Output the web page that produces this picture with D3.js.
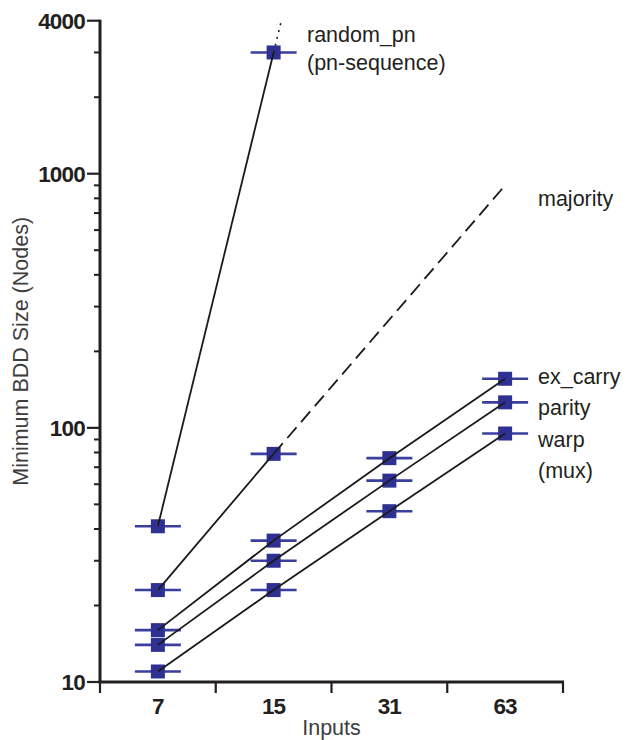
<!DOCTYPE html>
<html>
<head>
<meta charset="utf-8">
<script src="https://cdn.jsdelivr.net/npm/d3@7"></script>
<style>
  html, body { margin: 0; padding: 0; background: #fff; }
  svg { display: block; font-family: "Liberation Sans", Arial, Helvetica, sans-serif; }
</style>
</head>
<body>
<svg id="chart" width="632" height="740"></svg>
<script>
// ---- data ----
const inputs = [7, 15, 31, 63];
const randomPn = [41, 3000];          // inputs 7, 15
const majority = [23, 79];            // inputs 7, 15
const exCarry  = [16, 36, 76, 156];
const parity   = [14, 30, 62, 126];
const warp     = [11, 23, 47, 95];
// projected (extrapolated) trends drawn as dotted / dashed lines
const randomPnTrendInputs = [15, 31];
const randomPnTrend = [3000, 220000];
const majorityTrendInputs = [15, 63];
const majorityTrend = [79, 900];
const yMajorTicks = [10, 100, 1000, 4000];
const yMinorTicks = [20, 30, 40, 50, 60, 70, 80, 90, 200, 300, 400, 500, 600, 700, 800, 900, 2000, 3000];

// ---- layout ----
const svg = d3.select("#chart");
const pLeft = 100, pRight = 563, pTop = 20.7, pBottom = 682;

const x = d3.scaleBand().domain(inputs).range([pLeft, pRight]).padding(0);
const cx = v => x(v) + x.bandwidth() / 2;
const y = d3.scaleLog().domain([10, 4000]).range([pBottom, pTop]);

const ink = "#231f20";
const blue = "#2e3192";

svg.append("defs").append("clipPath").attr("id", "plotclip")
  .append("rect").attr("x", pLeft).attr("y", pTop).attr("width", 632 - pLeft).attr("height", pBottom - pTop);

// ---- axes ----
const yAxisG = svg.append("g");
yAxisG.append("line").attr("x1", pLeft).attr("x2", pLeft).attr("y1", pTop - 1).attr("y2", pBottom)
  .attr("stroke", ink).attr("stroke-width", 3);
yAxisG.selectAll("line.major").data(yMajorTicks).enter().append("line")
  .attr("class", "major")
  .attr("x1", pLeft - 13).attr("x2", pLeft).attr("y1", d => y(d)).attr("y2", d => y(d))
  .attr("stroke", ink).attr("stroke-width", 2.2);
yAxisG.selectAll("line.minor").data(yMinorTicks).enter().append("line")
  .attr("class", "minor")
  .attr("x1", pLeft - 6).attr("x2", pLeft).attr("y1", d => y(d)).attr("y2", d => y(d))
  .attr("stroke", ink).attr("stroke-width", 2);
yAxisG.selectAll("text").data(yMajorTicks).enter().append("text")
  .attr("x", pLeft - 15).attr("y", d => y(d)).attr("dy", "0.36em")
  .attr("text-anchor", "end").attr("font-size", 22.5).attr("font-weight", "bold")
  .attr("letter-spacing", "-0.8").attr("fill", ink)
  .text(d => d);

const xAxisG = svg.append("g");
xAxisG.append("line").attr("x1", pLeft - 1.5).attr("x2", pRight + 1).attr("y1", pBottom).attr("y2", pBottom)
  .attr("stroke", ink).attr("stroke-width", 3);
const xTickPos = inputs.map(d => x(d)).concat([pRight]);
xAxisG.selectAll("line.tick").data(xTickPos).enter().append("line")
  .attr("class", "tick")
  .attr("x1", d => d).attr("x2", d => d).attr("y1", pBottom).attr("y2", pBottom + 11)
  .attr("stroke", ink).attr("stroke-width", 2.2);
xAxisG.selectAll("text").data(inputs).enter().append("text")
  .attr("x", d => cx(d)).attr("y", 714)
  .attr("text-anchor", "middle").attr("font-size", 22.5).attr("font-weight", "bold")
  .attr("letter-spacing", "-0.8").attr("fill", ink)
  .text(d => d);

// axis titles
svg.append("text")
  .attr("transform", `translate(28,${(pTop + pBottom) / 2}) rotate(-90)`)
  .attr("text-anchor", "middle").attr("font-size", 21.5).attr("fill", "#3d3d3d")
  .text("Minimum BDD Size (Nodes)");
svg.append("text")
  .attr("x", (pLeft + pRight) / 2).attr("y", 735)
  .attr("text-anchor", "middle").attr("font-size", 21.5).attr("fill", "#3d3d3d")
  .text("Inputs");

// ---- markers ----
const allSeries = [
  { name: "random_pn", ins: inputs.slice(0, 2), vals: randomPn },
  { name: "majority", ins: inputs.slice(0, 2), vals: majority },
  { name: "ex_carry", ins: inputs, vals: exCarry },
  { name: "parity", ins: inputs, vals: parity },
  { name: "warp", ins: inputs, vals: warp },
];
const pts = [];
allSeries.forEach(s => s.ins.forEach((inp, i) => pts.push({ inp, v: s.vals[i] })));

const mG = svg.append("g");
mG.selectAll("line.err").data(pts).enter().append("line")
  .attr("class", "err")
  .attr("x1", d => cx(d.inp) - 23).attr("x2", d => cx(d.inp) + 23)
  .attr("y1", d => y(d.v)).attr("y2", d => y(d.v))
  .attr("stroke", "#3a3e9c").attr("stroke-width", 2.6);
mG.selectAll("rect").data(pts).enter().append("rect")
  .attr("x", d => cx(d.inp) - 7).attr("y", d => y(d.v) - 7)
  .attr("width", 14).attr("height", 14)
  .attr("fill", blue);

// ---- lines ----
const line = d3.line().x(d => cx(d[0])).y(d => y(d[1]));
const lG = svg.append("g");
allSeries.forEach(s => {
  lG.append("path")
    .attr("d", line(s.ins.map((inp, i) => [inp, s.vals[i]])))
    .attr("fill", "none").attr("stroke", "#1a1a1a").attr("stroke-width", 1.8);
});
lG.append("path")
  .attr("clip-path", "url(#plotclip)")
  .attr("d", line(randomPnTrendInputs.map((inp, i) => [inp, randomPnTrend[i]])))
  .attr("fill", "none").attr("stroke", "#1a1a1a").attr("stroke-width", 1.6)
  .attr("stroke-dasharray", "2,5");
lG.append("path")
  .attr("clip-path", "url(#plotclip)")
  .attr("d", line(majorityTrendInputs.map((inp, i) => [inp, majorityTrend[i]])))
  .attr("fill", "none").attr("stroke", "#1a1a1a").attr("stroke-width", 1.8)
  .attr("stroke-dasharray", "14,7");

// ---- series labels ----
const labG = svg.append("g").attr("font-size", 21.5).attr("fill", ink);
function label(lines, xPos, yPos, step) {
  lines.forEach((t, i) => labG.append("text").attr("x", xPos).attr("y", yPos + i * step).text(t));
}
label(["random_pn", "(pn-sequence)"], 307, 42, 28);
label(["majority"], 538, 206, 31);
label(["ex_carry"], 538, 384, 31);
label(["parity"], 538, 415, 31);
label(["warp", "(mux)"], 538, 447, 31);
</script>
</body>
</html>
